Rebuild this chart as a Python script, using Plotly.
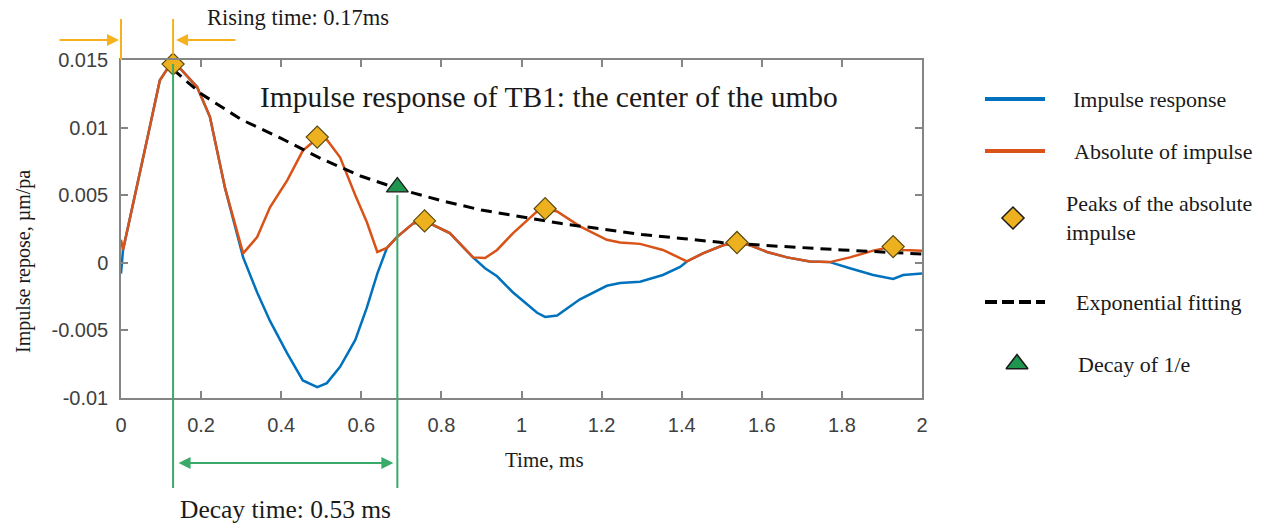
import plotly.graph_objects as go

# ---------------- data ----------------
x_tick_vals = [0, 0.2, 0.4, 0.6, 0.8, 1.0, 1.2, 1.4, 1.6, 1.8, 2.0]
x_tick_text = ["0", "0.2", "0.4", "0.6", "0.8", "1", "1.2", "1.4", "1.6", "1.8", "2"]
y_tick_vals = [-0.01, -0.005, 0, 0.005, 0.01, 0.015]
y_tick_text = ["-0.01", "-0.005", "0", "0.005", "0.01", "0.015"]

time_ms = [0.0, 0.005, 0.065, 0.097, 0.117, 0.13, 0.15, 0.19, 0.222, 0.26,
           0.305, 0.34, 0.372, 0.415, 0.454, 0.49, 0.514, 0.547, 0.585, 0.614,
           0.64, 0.664, 0.689, 0.729, 0.758, 0.779, 0.821, 0.879, 0.909, 0.939,
           0.979, 1.039, 1.059, 1.089, 1.146, 1.213, 1.246, 1.296, 1.353, 1.396,
           1.413, 1.453, 1.503, 1.538, 1.571, 1.613, 1.663, 1.72, 1.77, 1.82,
           1.878, 1.928, 1.953, 2.0]

impulse_response = [-0.0008, 0.00095, 0.0091, 0.0135, 0.0144, 0.0146, 0.0143, 0.0130, 0.0108, 0.0055,
                    0.0004, -0.0022, -0.0043, -0.0067, -0.0087, -0.0092, -0.0089, -0.0077, -0.0057, -0.0033,
                    -0.0008, 0.0011, 0.0019, 0.0029, 0.0031, 0.0028, 0.0022, 0.0004, -0.0004, -0.0010,
                    -0.0022, -0.0037, -0.0040, -0.0039, -0.0027, -0.0017, -0.0015, -0.0014, -0.0009, -0.0003,
                    0.0001, 0.0007, 0.0013, 0.0015, 0.0013, 0.0008, 0.0004, 0.0001, 0.00005, -0.0004,
                    -0.0009, -0.0012, -0.0009, -0.0008]

absolute_impulse = [0.0017, 0.00095, 0.0091, 0.0135, 0.0144, 0.0146, 0.0143, 0.0130, 0.0108, 0.0055,
                    0.0007, 0.0019, 0.0041, 0.0061, 0.0083, 0.0092, 0.0091, 0.0078, 0.0050, 0.0030,
                    0.0008, 0.0011, 0.0019, 0.0029, 0.0031, 0.0028, 0.0022, 0.0004, 0.00035, 0.00095,
                    0.0022, 0.0038, 0.0040, 0.0038, 0.0027, 0.0017, 0.0015, 0.0014, 0.00095, 0.00035,
                    0.0001, 0.0007, 0.0013, 0.0015, 0.0013, 0.0008, 0.0004, 0.0001, 0.00005, 0.0004,
                    0.0009, 0.0012, 0.00095, 0.0009]

peak_time = [0.13, 0.49, 0.758, 1.059, 1.538, 1.928]
peak_value = [0.0147, 0.0093, 0.0031, 0.0040, 0.0015, 0.0012]

fit_time = [0.13, 0.2, 0.3, 0.4, 0.5, 0.6, 0.7, 0.8, 0.9, 1.0,
            1.1, 1.2, 1.3, 1.4, 1.5, 1.6, 1.7, 1.8, 1.9, 2.0]
fit_value = [0.0143, 0.0125, 0.0106, 0.0092, 0.0077, 0.0064, 0.0054, 0.0046, 0.0039, 0.0034,
             0.0029, 0.0025, 0.0021, 0.0018, 0.0015, 0.0013, 0.0011, 0.00095, 0.0008, 0.00065]

decay_time = [0.69]
decay_value = [0.0056]

legend_labels = ["Impulse response", "Absolute of impulse", "Peaks of the absolute<br>impulse",
                 "Exponential fitting", "Decay of 1/e"]

# ---------------- layout geometry (pixels) ----------------
W, H = 1265, 529
L, R, T, B = 121, 922, 60, 398
X_RANGE = [0, 2]
Y_RANGE = [-0.01, 0.015]


def px_x(t):
    return L + (t - X_RANGE[0]) / (X_RANGE[1] - X_RANGE[0]) * (R - L)


def px_y(v):
    return B - (v - Y_RANGE[0]) / (Y_RANGE[1] - Y_RANGE[0]) * (B - T)


BLUE = "#0072BD"
ORANGE = "#D95319"
GOLD = "#EDB120"
GREEN = "#1E9650"
VGREEN = "#3AAA6A"
ARROW_GOLD = "#F5B21E"
AXIS = "#858585"
SERIF = "Liberation Serif, Times New Roman, serif"
SANS = "Liberation Sans, Arial, sans-serif"

fig = go.Figure()

# main data traces
fig.add_trace(go.Scatter(x=time_ms, y=impulse_response, mode="lines",
                         line=dict(color=BLUE, width=2.5), name=legend_labels[0],
                         showlegend=False, xaxis="x", yaxis="y"))
fig.add_trace(go.Scatter(x=time_ms, y=absolute_impulse, mode="lines",
                         line=dict(color=ORANGE, width=2.5), name=legend_labels[1],
                         showlegend=False, xaxis="x", yaxis="y"))
fig.add_trace(go.Scatter(x=fit_time, y=fit_value, mode="lines",
                         line=dict(color="black", width=3, dash="11px,7px"),
                         name=legend_labels[3], showlegend=False, xaxis="x", yaxis="y"))
fig.add_trace(go.Scatter(x=peak_time, y=peak_value, mode="markers",
                         marker=dict(symbol="diamond", size=17, color=GOLD,
                                     line=dict(color="#5a4a10", width=1.2)),
                         name="Peaks of the absolute impulse", showlegend=False,
                         xaxis="x", yaxis="y", cliponaxis=False))
fig.add_trace(go.Scatter(x=decay_time, y=decay_value, mode="markers",
                         marker=dict(symbol="triangle-up", size=19, color=GREEN,
                                     line=dict(color="#1a1a1a", width=1.2)),
                         name=legend_labels[4], showlegend=False,
                         xaxis="x", yaxis="y", cliponaxis=False))

# ---------------- custom legend on pixel overlay axes ----------------
leg_x0, leg_x1 = 985, 1045
leg_y = [99, 151, 218, 302, 364]
leg_text_x = [1071, 1072, 1064, 1074, 1076]

fig.add_trace(go.Scatter(x=[leg_x0, leg_x1], y=[leg_y[0]] * 2, mode="lines",
                         line=dict(color=BLUE, width=4), showlegend=False,
                         xaxis="x2", yaxis="y2", hoverinfo="skip"))
fig.add_trace(go.Scatter(x=[leg_x0, leg_x1], y=[leg_y[1]] * 2, mode="lines",
                         line=dict(color=ORANGE, width=4), showlegend=False,
                         xaxis="x2", yaxis="y2", hoverinfo="skip"))
fig.add_trace(go.Scatter(x=[(leg_x0 + leg_x1) / 2 - 2], y=[leg_y[2]], mode="markers",
                         marker=dict(symbol="diamond", size=17, color=GOLD,
                                     line=dict(color="#1a1a1a", width=1.5)),
                         showlegend=False, xaxis="x2", yaxis="y2", hoverinfo="skip"))
fig.add_trace(go.Scatter(x=[leg_x0, leg_x1], y=[leg_y[3]] * 2, mode="lines",
                         line=dict(color="black", width=4, dash="12px,5px"), showlegend=False,
                         xaxis="x2", yaxis="y2", hoverinfo="skip"))
fig.add_trace(go.Scatter(x=[(leg_x0 + leg_x1) / 2 + 2], y=[leg_y[4]], mode="markers",
                         marker=dict(symbol="triangle-up", size=19, color=GREEN,
                                     line=dict(color="#1a1a1a", width=1.5)),
                         showlegend=False, xaxis="x2", yaxis="y2", hoverinfo="skip"))

annotations = []
for lbl, tx, ty in zip(legend_labels, leg_text_x, leg_y):
    annotations.append(dict(x=tx, y=ty, xref="x2", yref="y2", text=lbl, showarrow=False,
                            xanchor="left", yanchor="middle", align="left",
                            font=dict(family=SERIF, size=22, color="#1a1a1a")))

# ---------------- decorations ----------------
pk_x = px_x(peak_time[0])
dc_x = px_x(decay_time[0])
shapes = [
    # green vertical guides
    dict(type="line", xref="x2", yref="y2", x0=pk_x, x1=pk_x, y0=px_y(peak_value[0]), y1=488,
         line=dict(color=VGREEN, width=2), layer="below"),
    dict(type="line", xref="x2", yref="y2", x0=dc_x, x1=dc_x, y0=px_y(decay_value[0]) + 8, y1=488,
         line=dict(color=VGREEN, width=2), layer="below"),
    # gold vertical guides (rising time)
    dict(type="line", xref="x2", yref="y2", x0=px_x(0), x1=px_x(0), y0=19, y1=T,
         line=dict(color=ARROW_GOLD, width=2)),
    dict(type="line", xref="x2", yref="y2", x0=pk_x, x1=pk_x, y0=19, y1=T - 6,
         line=dict(color=ARROW_GOLD, width=2)),
]

# arrows
annotations += [
    dict(x=px_x(0) - 2, y=40, ax=58, ay=40, xref="x2", yref="y2", axref="x2", ayref="y2",
         text="", showarrow=True, arrowhead=2, arrowsize=1.2, arrowwidth=2, arrowcolor=ARROW_GOLD),
    dict(x=pk_x + 3, y=40, ax=237, ay=40, xref="x2", yref="y2", axref="x2", ayref="y2",
         text="", showarrow=True, arrowhead=2, arrowsize=1.2, arrowwidth=2, arrowcolor=ARROW_GOLD),
    dict(x=dc_x - 4, y=463, ax=pk_x + 4, ay=463, xref="x2", yref="y2", axref="x2", ayref="y2",
         text="", showarrow=True, arrowhead=2, startarrowhead=2, arrowside="end+start",
         arrowsize=1.2, startarrowsize=1.2, arrowwidth=2, arrowcolor=VGREEN),
]

# texts
annotations += [
    dict(x=205, y=17, xref="x2", yref="y2", text="Rising time: 0.17ms", showarrow=False,
         xanchor="left", yanchor="middle", font=dict(family=SERIF, size=22.5, color="#1a1a1a")),
    dict(x=258, y=97, xref="x2", yref="y2", text="Impulse response of TB1: the center of the umbo",
         showarrow=False, xanchor="left", yanchor="middle",
         font=dict(family=SERIF, size=29.5, color="#1a1a1a")),
    dict(x=(pk_x + dc_x) / 2, y=509, xref="x2", yref="y2", text="Decay time: 0.53 ms",
         showarrow=False, xanchor="center", yanchor="middle",
         font=dict(family=SERIF, size=25.5, color="#1a1a1a")),
    dict(x=544, y=460, xref="x2", yref="y2", text="Time, ms", showarrow=False,
         xanchor="center", yanchor="middle", font=dict(family=SERIF, size=21, color="#1a1a1a")),
    dict(x=23, y=262, xref="x2", yref="y2", text="Impulse repose, µm/pa", showarrow=False,
         textangle=-90, xanchor="center", yanchor="middle",
         font=dict(family=SERIF, size=20, color="#1a1a1a")),
]

axis_common = dict(showgrid=False, zeroline=False, showline=True, linecolor=AXIS, linewidth=1.5,
                   mirror="ticks", ticks="inside", ticklen=7, tickwidth=1.5, tickcolor=AXIS,
                   automargin=False,
                   tickfont=dict(family=SANS, size=20, color="#404040"))

fig.update_layout(
    width=W, height=H,
    margin=dict(l=0, r=0, t=0, b=0, pad=0),
    paper_bgcolor="white",
    plot_bgcolor="rgba(0,0,0,0)",
    showlegend=False,
    xaxis=dict(domain=[L / W, R / W], range=X_RANGE, tickvals=x_tick_vals, ticktext=x_tick_text,
               anchor="y", ticklabelstandoff=8, **axis_common),
    yaxis=dict(domain=[1 - B / H, 1 - T / H], range=Y_RANGE, tickvals=y_tick_vals,
               ticktext=y_tick_text, anchor="x", ticklabelstandoff=7, **axis_common),
    xaxis2=dict(domain=[0, 1], range=[0, W], visible=False, anchor="y2", fixedrange=True,
                automargin=False),
    yaxis2=dict(domain=[0, 1], range=[H, 0], visible=False, anchor="x2", fixedrange=True,
                automargin=False),
    shapes=shapes,
    annotations=annotations,
)

fig.write_html("out.html")
